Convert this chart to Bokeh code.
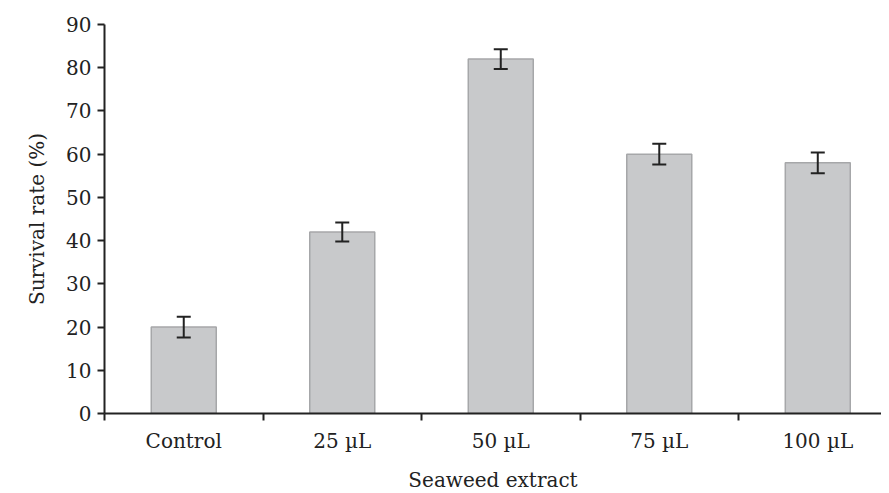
from bokeh.plotting import figure
from bokeh.models import ColumnDataSource, Whisker, FixedTicker, Range1d
from bokeh.embed import file_html
from bokeh.resources import INLINE

categories = ["Control", "25 \u00b5L", "50 \u00b5L", "75 \u00b5L", "100 \u00b5L"]
survival = [20, 42, 82, 60, 58]
errors = [2.4, 2.2, 2.3, 2.4, 2.4]
y_ticks = [0, 10, 20, 30, 40, 50, 60, 70, 80, 90]

centers = [i + 0.5 for i in range(len(categories))]
source = ColumnDataSource(data=dict(
    x=centers,
    top=survival,
    upper=[v + e for v, e in zip(survival, errors)],
    lower=[v - e for v, e in zip(survival, errors)],
))

FONT = "DejaVu Serif"

p = figure(frame_width=777, frame_height=389, output_backend="svg",
           toolbar_location=None,
           x_range=Range1d(0, 4.902), y_range=Range1d(0, 90),
           min_border_left=104, min_border_right=0, min_border_top=24,
           min_border_bottom=4)
p.outline_line_color = None
p.xgrid.visible = False
p.ygrid.visible = False

p.vbar(x="x", top="top", width=0.41, source=source,
       fill_color="#c8c9cb", line_color="#a6a7a9", line_width=1.5)

w = Whisker(base="x", upper="upper", lower="lower", source=source,
            line_color="#222222", line_width=2, level="overlay")
w.upper_head.size = 14
w.lower_head.size = 14
w.upper_head.line_color = "#222222"
w.lower_head.line_color = "#222222"
w.upper_head.line_width = 2
w.lower_head.line_width = 2
p.add_layout(w)

# x axis: labels at category centers, ticks at category boundaries
p.xaxis.ticker = FixedTicker(ticks=centers,
                             minor_ticks=[float(i) for i in range(len(categories))])
p.xaxis.major_label_overrides = {c: lab for c, lab in zip(centers, categories)}
p.xaxis.major_tick_out = 0
p.xaxis.major_tick_in = 0
p.xaxis.minor_tick_out = 7
p.xaxis.minor_tick_in = 0
p.xaxis.minor_tick_line_width = 2
p.xaxis.minor_tick_line_color = "#222222"
p.xaxis.axis_label = "Seaweed extract"
p.xaxis.major_label_standoff = 8
p.xaxis.axis_label_standoff = 12

p.yaxis.ticker = FixedTicker(ticks=y_ticks)
p.yaxis.minor_tick_line_color = None
p.yaxis.major_tick_out = 7
p.yaxis.major_tick_in = 0
p.yaxis.major_tick_line_width = 2
p.yaxis.major_tick_line_color = "#222222"
p.yaxis.axis_label = "Survival rate (%)"
p.yaxis.major_label_standoff = 6
p.yaxis.axis_label_standoff = 14

for ax in (p.xaxis, p.yaxis):
    ax.axis_line_color = "#222222"
    ax.axis_line_width = 2
    ax.major_label_text_font = FONT
    ax.major_label_text_font_size = "20px"
    ax.major_label_text_color = "#222222"
    ax.axis_label_text_font = FONT
    ax.axis_label_text_font_size = "20px"
    ax.axis_label_text_font_style = "normal"
    ax.axis_label_text_color = "#222222"

open("out.html", "w").write(file_html(p, INLINE))
